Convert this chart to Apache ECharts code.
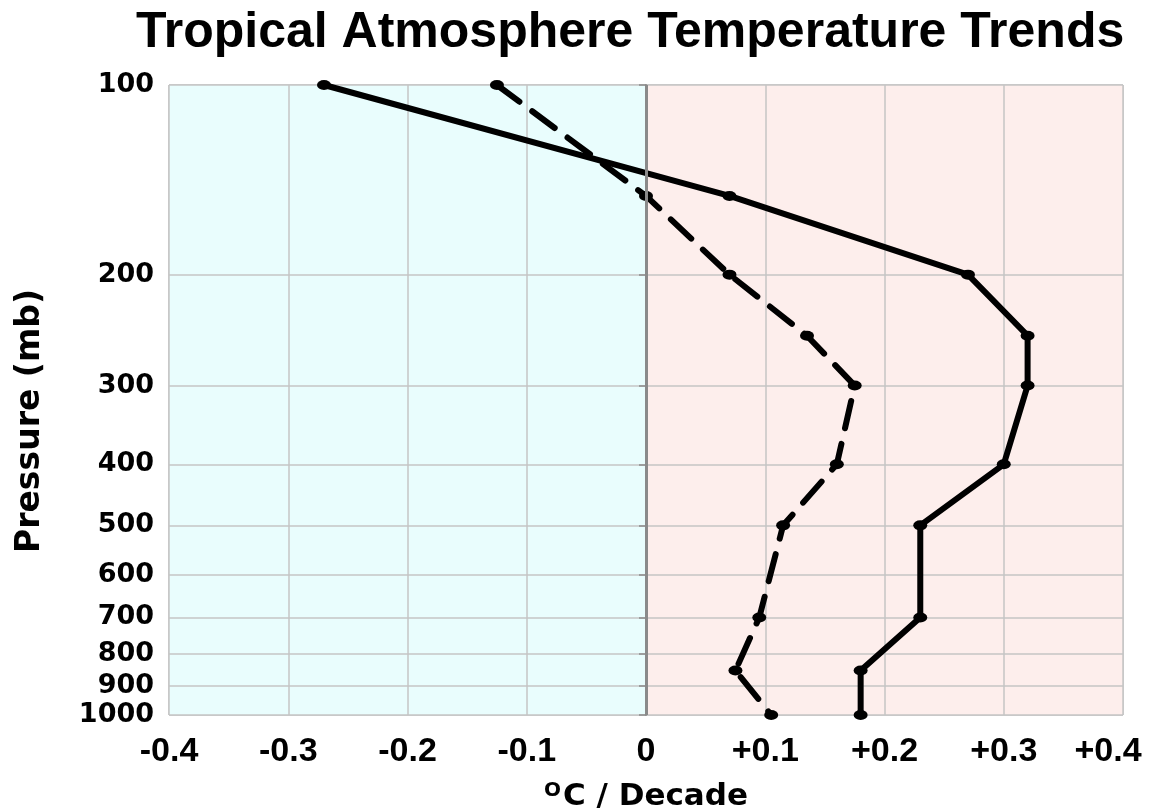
<!DOCTYPE html>
<html>
<head>
<meta charset="utf-8">
<script src="https://cdn.jsdelivr.net/npm/echarts@6/dist/echarts.min.js"></script>
<style>html,body{margin:0;padding:0;background:#fff}#c{width:1150px;height:810px}</style>
</head>
<body>
<div id="c"></div>
<script>
// Pressure levels (mb) at which trends are plotted
const pressureLevels = [100, 150, 200, 250, 300, 400, 500, 700, 850, 1000];
// Solid line trend (°C / decade)
const solidTrend = [-0.27, 0.07, 0.27, 0.32, 0.32, 0.30, 0.23, 0.23, 0.18, 0.18];
// Dashed line trend (°C / decade)
const dashedTrend = [-0.125, 0.0, 0.07, 0.135, 0.175, 0.16, 0.115, 0.095, 0.075, 0.105];
// Tick labels
const pressureTicks = [100, 200, 300, 400, 500, 600, 700, 800, 900, 1000];
const xTickValues = [-0.4, -0.3, -0.2, -0.1, 0, 0.1, 0.2, 0.3, 0.4];
const xTickLabels = ['-0.4', '-0.3', '-0.2', '-0.1', '0', '+0.1', '+0.2', '+0.3', '+0.4'];

const logTicks = pressureTicks.map(p => Math.log10(p));
const toPts = arr => arr.map((v, i) => [v, Math.log10(pressureLevels[i])]);

const chart = echarts.init(document.getElementById('c'), null, {renderer: 'canvas'});
const gridCol = '#c4c4c4';
const xLabFont = {fontFamily: 'Liberation Sans', fontWeight: 'bold', fontSize: 34, color: '#000'};
chart.setOption({
  animation: false,
  backgroundColor: '#ffffff',
  title: {
    text: 'Tropical Atmosphere Temperature Trends',
    left: 131, top: 3,
    textStyle: {fontFamily: 'Liberation Sans', fontWeight: 'bold', fontSize: 50, color: '#000'}
  },
  grid: {left: 169, right: 27, top: 85, bottom: 95, outerBoundsMode: 'none', containLabel: false,
         show: true, borderColor: '#a8a8a8', borderWidth: 1, backgroundColor: 'transparent'},
  xAxis: {
    type: 'value', min: -0.4, max: 0.4, interval: 0.1, z: 1,
    axisLine: {show: false},
    axisTick: {show: false},
    splitLine: {show: true, lineStyle: {color: gridCol, width: 1.5}},
    axisLabel: {
      margin: 20,
      ...xLabFont,
      rich: {
        n: {...xLabFont},
        last: {...xLabFont, padding: [0, 30, 0, 0]}
      },
      formatter: v => {
        const i = xTickValues.findIndex(t => Math.abs(t - v) < 1e-6);
        if (i < 0) return '';
        return i === xTickValues.length - 1 ? '{last|' + xTickLabels[i] + '}' : '{n|' + xTickLabels[i] + '}';
      }
    },
    name: '{sup|O}{main|C / Decade}',
    nameLocation: 'middle', nameGap: 66,
    nameTextStyle: {
      rich: {
        sup: {fontFamily: 'DejaVu Sans', fontWeight: 'bold', fontSize: 20, color: '#000', verticalAlign: 'top', padding: [0, 2, 12, 0]},
        main: {fontFamily: 'DejaVu Sans', fontWeight: 'bold', fontSize: 31, color: '#000'}
      }
    }
  },
  yAxis: {
    type: 'value', inverse: true, min: 2, max: 3, z: 1,
    axisLine: {show: true, lineStyle: {color: '#8c8c8c', width: 2}},
    axisTick: {show: true, length: 7, customValues: logTicks, lineStyle: {color: '#8c8c8c', width: 1.5}},
    splitLine: {show: true, lineStyle: {color: gridCol, width: 1.5}},
    axisLabel: {
      customValues: logTicks, margin: 15,
      fontFamily: 'DejaVu Sans', fontWeight: 'bold', fontSize: 27, color: '#000',
      formatter: v => { const i = logTicks.findIndex(t => Math.abs(t - v) < 1e-6); return i >= 0 ? String(pressureTicks[i]) : ''; }
    }
  },
  graphic: [{
    type: 'text', x: 30, y: 421, rotation: Math.PI / 2,
    style: {text: 'Pressure (mb)', fontFamily: 'DejaVu Sans', fontWeight: 'bold', fontSize: 33, fill: '#000', align: 'center', verticalAlign: 'middle'}
  }],
  series: [
    {
      type: 'line', name: 'background', data: [], z: 0, silent: true,
      markArea: {
        silent: true, z: 0,
        data: [
          [{xAxis: -0.4, itemStyle: {color: '#e9fdfd'}}, {xAxis: 0}],
          [{xAxis: 0, itemStyle: {color: '#fdeeec'}}, {xAxis: 0.4}]
        ]
      }
    },
    {
      type: 'line', name: 'zero', data: [], z: 2, silent: true,
      markLine: {
        silent: true, symbol: 'none', label: {show: false},
        lineStyle: {color: '#8a8a8a', width: 3, type: 'solid'},
        data: [{xAxis: 0}]
      }
    },
    {
      type: 'line', name: 'dashed', data: toPts(dashedTrend), z: 3,
      symbol: 'circle', symbolSize: [14, 10], itemStyle: {color: '#000'},
      lineStyle: {color: '#000', width: 6, type: [28, 16], cap: 'round'}
    },
    {
      type: 'line', name: 'solid', data: toPts(solidTrend), z: 4,
      symbol: 'circle', symbolSize: [14, 10], itemStyle: {color: '#000'},
      lineStyle: {color: '#000', width: 6, cap: 'round', join: 'round'}
    }
  ]
});
</script>
</body>
</html>
